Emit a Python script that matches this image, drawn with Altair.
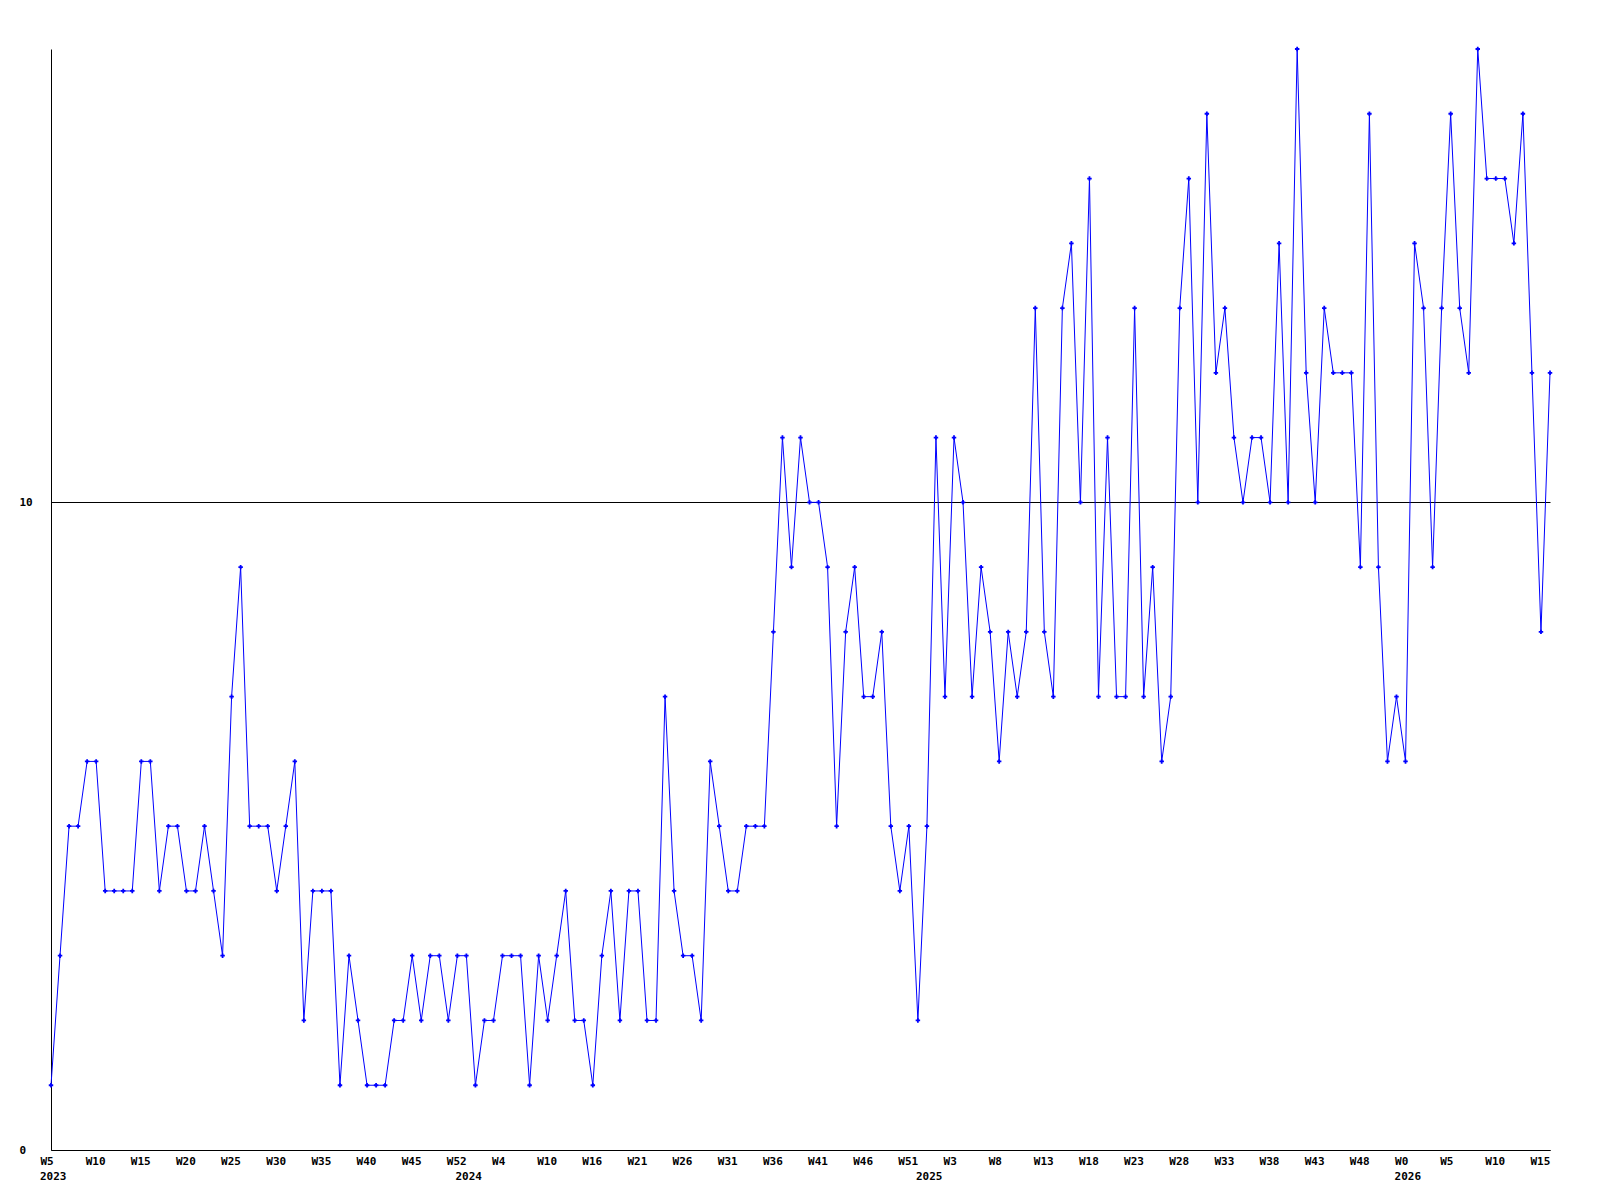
import altair as alt
import pandas as pd

values = [
    1, 3, 5, 5, 6, 6, 4, 4, 4, 4,
    6, 6, 4, 5, 5, 4, 4, 5, 4, 3,
    7, 9, 5, 5, 5, 4, 5, 6, 2, 4,
    4, 4, 1, 3, 2, 1, 1, 1, 2, 2,
    3, 2, 3, 3, 2, 3, 3, 1, 2, 2,
    3, 3, 3, 1, 3, 2, 3, 4, 2, 2,
    1, 3, 4, 2, 4, 4, 2, 2, 7, 4,
    3, 3, 2, 6, 5, 4, 4, 5, 5, 5,
    8, 11, 9, 11, 10, 10, 9, 5, 8, 9,
    7, 7, 8, 5, 4, 5, 2, 5, 11, 7,
    11, 10, 7, 9, 8, 6, 8, 7, 8, 13,
    8, 7, 13, 14, 10, 15, 7, 11, 7, 7,
    13, 7, 9, 6, 7, 13, 15, 10, 16, 12,
    13, 11, 10, 11, 11, 10, 14, 10, 17, 12,
    10, 13, 12, 12, 12, 9, 16, 9, 6, 7,
    6, 14, 13, 9, 13, 16, 13, 12, 17, 15,
    15, 15, 14, 16, 12, 8, 12,
]

week_labels = ["W5", "W10", "W15", "W20", "W25", "W30", "W35", "W40", "W45", "W52",
               "W4", "W10", "W16", "W21", "W26", "W31", "W36", "W41", "W46", "W51",
               "W3", "W8", "W13", "W18", "W23", "W28", "W33", "W38", "W43", "W48",
               "W0", "W5", "W10", "W15"]
label_step = 5

year_labels = ["2023", "2024", "2025", "2026"]
year_index = [0, 46, 97, 150]

y_ticks = [0, 10]
y_max = 17

df = pd.DataFrame({"i": list(range(len(values))), "v": values})
years = pd.DataFrame({"i": year_index, "label": year_labels})

W, H = 1499, 1101
FONT = "DejaVu Sans Mono"
BLUE = "#0000ff"

tick_values = [k * label_step for k in range(len(week_labels))]
label_js = "[" + ",".join("'" + w + "'" for w in week_labels) + "]"

x_scale = alt.Scale(domain=[0, len(values) - 1], nice=False, zero=False)
y_scale = alt.Scale(domain=[0, y_max], nice=False)

x_enc = alt.X(
    "i:Q",
    scale=x_scale,
    axis=alt.Axis(
        values=tick_values,
        labelExpr=label_js + "[round(datum.value / " + str(label_step) + ")]",
        title=None,
        grid=False,
        ticks=False,
        domain=True,
        domainColor="black",
        domainWidth=1,
        labelFont=FONT,
        labelFontSize=11,
        labelFontWeight="bold",
        labelColor="black",
        labelAlign="left",
        labelOffset=-11,
        labelPadding=5,
        labelFlush=False,
        labelOverlap=False,
    ),
)
y_enc = alt.Y(
    "v:Q",
    scale=y_scale,
    axis=alt.Axis(
        values=y_ticks,
        format="d",
        title=None,
        grid=True,
        gridColor="black",
        gridOpacity=1,
        gridWidth=1,
        ticks=False,
        domain=True,
        domainColor="black",
        domainWidth=1,
        labelFont=FONT,
        labelFontSize=11,
        labelFontWeight="bold",
        labelColor="black",
        labelAlign="left",
        labelBaseline="middle",
        labelPadding=32,
    ),
)

line = alt.Chart(df).mark_line(color=BLUE, strokeWidth=1).encode(x=x_enc, y=y_enc)
pts = alt.Chart(df).mark_point(
    shape="cross", filled=True, size=20, color=BLUE, opacity=1
).encode(x="i:Q", y="v:Q")

year_text = alt.Chart(years).mark_text(
    font=FONT, fontSize=11, fontWeight="bold", color="black",
    align="left", baseline="middle", dx=-11
).encode(
    x=alt.X("i:Q", scale=x_scale),
    y=alt.value(H + 27),
    text="label:N",
)

chart = alt.layer(line, pts, year_text).properties(
    width=W,
    height=H,
    autosize=alt.AutoSizeParams(type="none"),
    padding={"left": 43, "top": 41, "right": 35, "bottom": 35},
    background="white",
).configure_view(stroke=None)

chart.save("out.html", embed_options={"renderer": "svg", "actions": False})
